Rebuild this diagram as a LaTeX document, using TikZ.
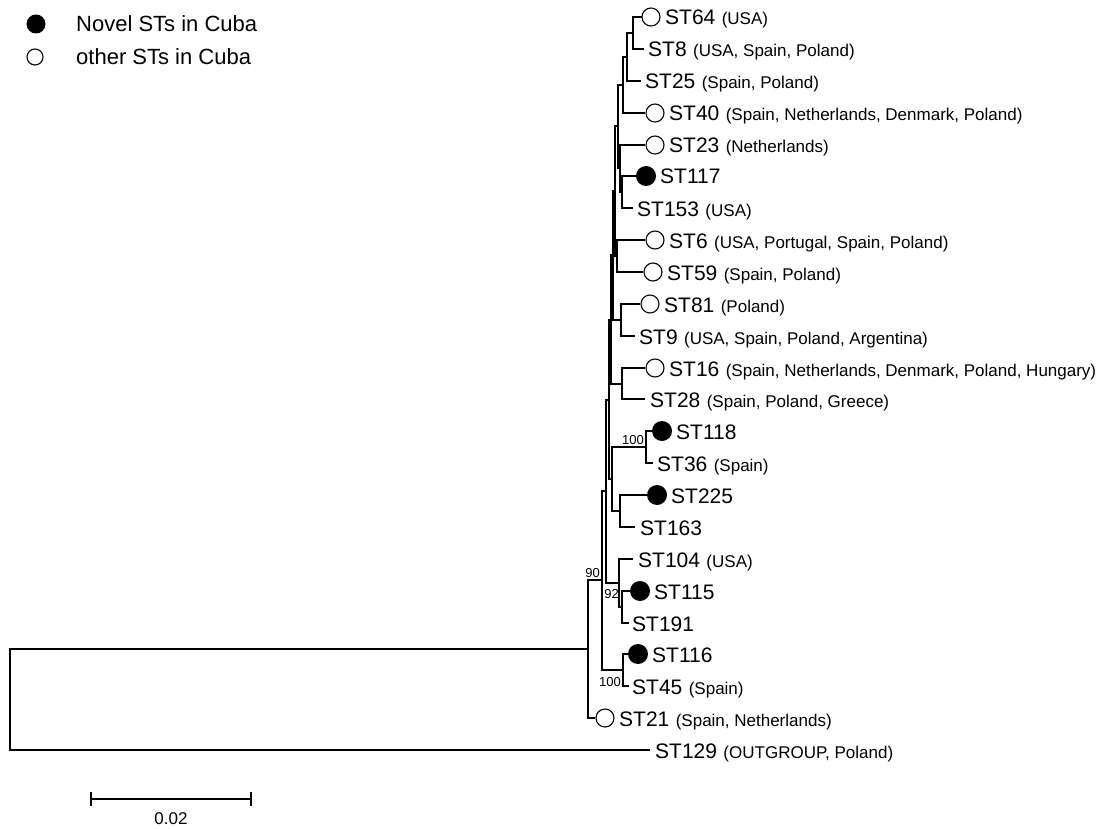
\documentclass[tikz,border=0pt]{standalone}
\usepackage{fontspec}
\setmainfont{Liberation Sans}
\begin{document}
\begin{tikzpicture}[x=1pt,y=-1pt,
  edge/.style={draw=black, line width=1.2pt},
  opn/.style={circle, draw=black, line width=1.1pt, minimum size=18pt, inner sep=0pt},
  fil/.style={circle, fill=black, minimum size=20pt, inner sep=0pt},
  stl/.style={anchor=base west, inner sep=0pt, font=\fontsize{21}{24}\selectfont},
  cty/.style={anchor=base west, inner sep=0pt, font=\fontsize{17}{20}\selectfont},
  lgt/.style={anchor=base west, inner sep=0pt, font=\fontsize{22}{26}\selectfont},
  bs/.style={inner sep=0pt, font=\fontsize{13}{15}\selectfont},
]
\useasboundingbox (0,0) rectangle (1097,829);

% ---------- leaf tips ----------
\coordinate (t64) at (642,17);
\coordinate (t8) at (644,49);
\coordinate (t25) at (641,81);
\coordinate (t40) at (645,113);
\coordinate (t23) at (645,145);
\coordinate (t117) at (637,176);
\coordinate (t153) at (633,208);
\coordinate (t6) at (645,240);
\coordinate (t59) at (643,272);
\coordinate (t81) at (640,304);
\coordinate (t9) at (635,336);
\coordinate (t16) at (645,368);
\coordinate (t28) at (645,399);
\coordinate (t118) at (652,431);
\coordinate (t36) at (653,463);
\coordinate (t225) at (647,495);
\coordinate (t163) at (635,527);
\coordinate (t104) at (633,559);
\coordinate (t115) at (630,591);
\coordinate (t191) at (629,623);
\coordinate (t116) at (628,654);
\coordinate (t45) at (629,686);
\coordinate (t21) at (595,718);
\coordinate (t129) at (650,750);

% ---------- internal nodes ----------
\coordinate (N1) at (633,33);
\coordinate (N2) at (627,57);
\coordinate (N3) at (623,85);
\coordinate (N5) at (622,192);
\coordinate (N4) at (620,168);
\coordinate (P1) at (618,126);
\coordinate (N6) at (617,256);
\coordinate (P2) at (615,191);
\coordinate (N7) at (621,320);
\coordinate (Q1) at (613,255);
\coordinate (N8) at (622,384);
\coordinate (Q2) at (611,320);
\coordinate (N9) at (646,447);
\coordinate (N10) at (620,511);
\coordinate (R1) at (612,479);
\coordinate (Q3a) at (609,400);
\coordinate (N11) at (622,607);
\coordinate (F) at (619,583);
\coordinate (Q3b) at (606,491);
\coordinate (D) at (623,670);
\coordinate (B) at (602,580);
\coordinate (A) at (588,649);
\coordinate (root) at (10,700);

% ---------- edges ----------
\draw[edge] (N1) |- (t64);  \draw[edge] (N1) |- (t8);
\draw[edge] (N2) |- (N1);   \draw[edge] (N2) |- (t25);
\draw[edge] (N3) |- (N2);   \draw[edge] (N3) |- (t40);
\draw[edge] (N5) |- (t117); \draw[edge] (N5) |- (t153);
\draw[edge] (N4) |- (t23);  \draw[edge] (N4) |- (N5);
\draw[edge] (P1) |- (N3);   \draw[edge] (P1) |- (N4);
\draw[edge] (N6) |- (t6);   \draw[edge] (N6) |- (t59);
\draw[edge] (P2) |- (P1);   \draw[edge] (P2) |- (N6);
\draw[edge] (N7) |- (t81);  \draw[edge] (N7) |- (t9);
\draw[edge] (Q1) |- (P2);   \draw[edge] (Q1) |- (N7);
\draw[edge] (N8) |- (t16);  \draw[edge] (N8) |- (t28);
\draw[edge] (Q2) |- (Q1);   \draw[edge] (Q2) |- (N8);
\draw[edge] (N9) |- (t118); \draw[edge] (N9) |- (t36);
\draw[edge] (N10) |- (t225); \draw[edge] (N10) |- (t163);
\draw[edge] (R1) |- (N9);   \draw[edge] (R1) |- (N10);
\draw[edge] (Q3a) |- (Q2);  \draw[edge] (Q3a) |- (R1);
\draw[edge] (N11) |- (t115); \draw[edge] (N11) |- (t191);
\draw[edge] (F) |- (t104);  \draw[edge] (F) |- (N11);
\draw[edge] (Q3b) |- (Q3a); \draw[edge] (Q3b) |- (F);
\draw[edge] (D) |- (t116);  \draw[edge] (D) |- (t45);
\draw[edge] (B) |- (Q3b);   \draw[edge] (B) |- (D);
\draw[edge] (A) |- (B);     \draw[edge] (A) |- (t21);
\draw[edge] (root) |- (A);  \draw[edge] (root) |- (t129);

% ---------- markers ----------
\node[opn] (c64) at (651,17) {};
\node[opn] (c40) at (655,113) {};
\node[opn] (c23) at (655,145) {};
\node[fil] (c117) at (646,176) {};
\node[opn] (c6) at (655,240) {};
\node[opn] (c59) at (653,272) {};
\node[opn] (c81) at (650,304) {};
\node[opn] (c16) at (655,368) {};
\node[fil] (c118) at (662,431) {};
\node[fil] (c225) at (657,495) {};
\node[fil] (c115) at (640,591) {};
\node[fil] (c116) at (638,654) {};
\node[opn] (c21) at (605,718) {};

% ---------- leaf labels ----------
\node[stl] (s64) at (665,25) {ST64};
\node[cty] at ([xshift=6pt]s64.base east) {(USA)};
\node[stl] (s8) at (648,57) {ST8};
\node[cty] at ([xshift=6pt]s8.base east) {(USA, Spain, Poland)};
\node[stl] (s25) at (645,89) {ST25};
\node[cty] at ([xshift=6pt]s25.base east) {(Spain, Poland)};
\node[stl] (s40) at (669,121) {ST40};
\node[cty] at ([xshift=6pt]s40.base east) {(Spain, Netherlands, Denmark, Poland)};
\node[stl] (s23) at (669,153) {ST23};
\node[cty] at ([xshift=6pt]s23.base east) {(Netherlands)};
\node[stl] (s117) at (660,184) {ST117};
\node[stl] (s153) at (637,216) {ST153};
\node[cty] at ([xshift=6pt]s153.base east) {(USA)};
\node[stl] (s6) at (669,248) {ST6};
\node[cty] at ([xshift=6pt]s6.base east) {(USA, Portugal, Spain, Poland)};
\node[stl] (s59) at (667,280) {ST59};
\node[cty] at ([xshift=6pt]s59.base east) {(Spain, Poland)};
\node[stl] (s81) at (664,312) {ST81};
\node[cty] at ([xshift=6pt]s81.base east) {(Poland)};
\node[stl] (s9) at (639,344) {ST9};
\node[cty] at ([xshift=6pt]s9.base east) {(USA, Spain, Poland, Argentina)};
\node[stl] (s16) at (669,376) {ST16};
\node[cty] at ([xshift=6pt]s16.base east) {(Spain, Netherlands, Denmark, Poland, Hungary)};
\node[stl] (s28) at (650,407) {ST28};
\node[cty] at ([xshift=6pt]s28.base east) {(Spain, Poland, Greece)};
\node[stl] (s118) at (676,439) {ST118};
\node[stl] (s36) at (657,471) {ST36};
\node[cty] at ([xshift=6pt]s36.base east) {(Spain)};
\node[stl] (s225) at (671,503) {ST225};
\node[stl] (s163) at (640,535) {ST163};
\node[stl] (s104) at (638,567) {ST104};
\node[cty] at ([xshift=6pt]s104.base east) {(USA)};
\node[stl] (s115) at (654,599) {ST115};
\node[stl] (s191) at (632,631) {ST191};
\node[stl] (s116) at (652,662) {ST116};
\node[stl] (s45) at (632,694) {ST45};
\node[cty] at ([xshift=6pt]s45.base east) {(Spain)};
\node[stl] (s21) at (619,726) {ST21};
\node[cty] at ([xshift=6pt]s21.base east) {(Spain, Netherlands)};
\node[stl] (s129) at (655,758) {ST129};
\node[cty] at ([xshift=6pt]s129.base east) {(OUTGROUP, Poland)};

% ---------- bootstrap values ----------
\node[bs, anchor=east] (b100a) at (644,440) {100};
\node[bs, anchor=south east] (b90) at (600,578) {90};
\node[bs, anchor=east] (b92) at (619,594) {92};
\node[bs, anchor=east] (b100b) at (621,682) {100};

% ---------- legend ----------
\node[fil, minimum size=19pt] (lg1) at (36,24) {};
\node[lgt] (lt1) at (76,32) {Novel STs in Cuba};
\node[opn, minimum size=16pt] (lg2) at (35,57) {};
\node[lgt] (lt2) at (76,65) {other STs in Cuba};

% ---------- scale bar ----------
\coordinate (sb1) at (91,799);
\coordinate (sb2) at (251,799);
\draw[edge] (sb1) -- (sb2);
\draw[edge] ([yshift=7pt]sb1) -- ([yshift=-7pt]sb1);
\draw[edge] ([yshift=7pt]sb2) -- ([yshift=-7pt]sb2);
\node[inner sep=0pt, font=\fontsize{17}{20}\selectfont] (sbl) at (171,819) {0.02};
\end{tikzpicture}
\end{document}
